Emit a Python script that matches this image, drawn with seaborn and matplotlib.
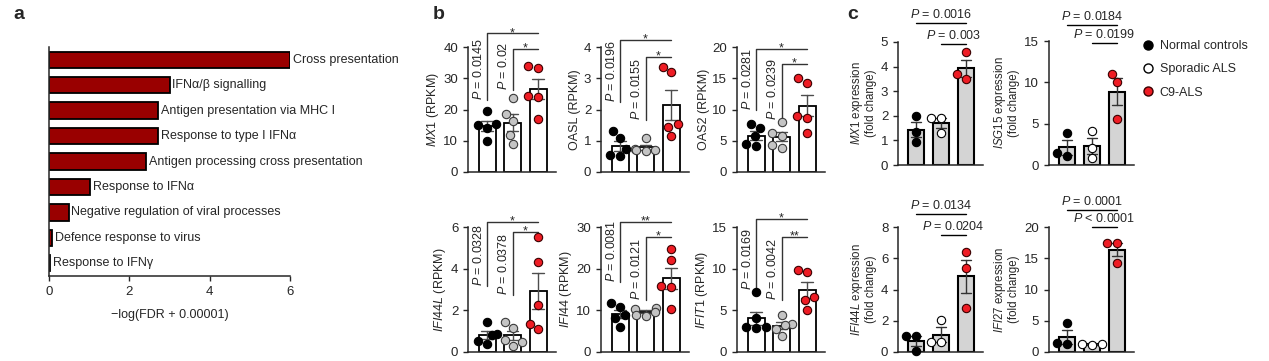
import numpy as np
import pandas as pd
import matplotlib
matplotlib.use('Agg')
import matplotlib.pyplot as plt
import matplotlib.transforms as mtransforms
from matplotlib.lines import Line2D
import seaborn as sns

sns.set_style('ticks')
plt.rcParams['font.family'] = ['Liberation Sans', 'DejaVu Sans']
plt.rcParams['mathtext.fontset'] = 'custom'
plt.rcParams['mathtext.rm'] = 'Liberation Sans'
plt.rcParams['mathtext.it'] = 'Liberation Sans:italic'
plt.rcParams['font.size'] = 9
plt.rcParams['axes.linewidth'] = 1.1
plt.rcParams['xtick.major.size'] = 3.5
plt.rcParams['ytick.major.size'] = 3.5
plt.rcParams['xtick.major.width'] = 1
plt.rcParams['ytick.major.width'] = 1
plt.rcParams['xtick.labelsize'] = 9
plt.rcParams['ytick.labelsize'] = 9.5

# ---- data ----
# a: pathway enrichment
pathways = ['Cross presentation', 'IFNα/β signalling', 'Antigen presentation via MHC I',
            'Response to type I IFNα', 'Antigen processing cross presentation',
            'Response to IFNα', 'Negative regulation of viral processes',
            'Defence response to virus', 'Response to IFNγ']
log_fdr = [6.0, 3.0, 2.71, 2.71, 2.41, 1.02, 0.49, 0.08, 0.03]

groups = ['Normal controls', 'Sporadic ALS', 'C9-ALS']

# b: RPKM, one list per group
mx1_rpkm = [[19.5, 15.5, 15.0, 14.0, 10.0], [23.8, 18.5, 16.2, 11.8, 8.9], [33.8, 33.3, 24.3, 24.1, 17.0]]
oasl_rpkm = [[1.3, 1.1, 0.75, 0.55, 0.5], [1.1, 0.75, 0.72, 0.7, 0.68], [3.36, 3.2, 1.54, 1.45, 1.16]]
oas2_rpkm = [[7.7, 7.0, 5.7, 4.5, 4.2], [8.0, 6.2, 5.8, 4.4, 3.9], [15.0, 14.3, 8.9, 8.7, 6.3]]
ifi44l_rpkm = [[1.45, 0.85, 0.8, 0.55, 0.4], [1.45, 1.15, 0.6, 0.5, 0.3], [5.5, 4.33, 2.26, 1.35, 1.1]]
ifi44_rpkm = [[11.7, 10.9, 8.9, 8.1, 6.1], [10.5, 10.4, 9.7, 8.9, 8.7], [24.8, 22.0, 15.8, 15.5, 10.3]]
ifit1_rpkm = [[7.2, 4.06, 3.06, 2.95, 2.9], [4.4, 3.4, 3.2, 2.8, 1.9], [9.9, 9.6, 6.6, 6.2, 5.1]]

b_ylabels = ['$\\mathit{MX1}$ (RPKM)', 'OASL (RPKM)', 'OAS2 (RPKM)',
             '$\\mathit{IFI44L}$ (RPKM)', '$\\mathit{IFI44}$ (RPKM)', '$\\mathit{IFIT1}$ (RPKM)']
b_yticks = [[0, 10, 20, 30, 40], [0, 1, 2, 3, 4], [0, 5, 10, 15, 20],
            [0, 2, 4, 6], [0, 10, 20, 30], [0, 5, 10, 15]]
b_pvals = [('0.0145', '0.02'), ('0.0196', '0.0155'), ('0.0281', '0.0239'),
           ('0.0328', '0.0378'), ('0.0081', '0.0121'), ('0.0169', '0.0042')]
b_stars = [('*', '*'), ('*', '*'), ('*', '*'), ('*', '*'), ('**', '*'), ('*', '**')]

# c: qPCR fold change
mx1_fc = [[1.98, 1.36, 0.95], [1.9, 1.9, 1.3], [4.6, 3.68, 3.5]]
isg15_fc = [[3.9, 1.4, 1.1], [4.1, 2.1, 0.8], [11.0, 10.0, 5.6]]
ifi44l_fc = [[1.05, 1.0, 0.05], [2.06, 0.64, 0.64], [6.4, 5.35, 2.8]]
ifi27_fc = [[4.7, 1.42, 1.3], [1.3, 1.25, 1.1], [17.5, 17.5, 14.2]]

c_ylabels = ['$\\mathit{MX1}$ expression\n(fold change)', '$\\mathit{ISG15}$ expression\n(fold change)',
             '$\\mathit{IFI44L}$ expression\n(fold change)', '$\\mathit{IFI27}$ expression\n(fold change)']
c_yticks = [[0, 1, 2, 3, 4, 5], [0, 5, 10, 15], [0, 2, 4, 6, 8], [0, 5, 10, 15, 20]]
c_pvals = [('= 0.0016', '= 0.003'), ('= 0.0184', '= 0.0199'),
           ('= 0.0134', '= 0.0204'), ('= 0.0001', '< 0.0001')]

# ---- layout (pixels) ----
W, H = 1269, 361
fig = plt.figure(figsize=(W / 100, H / 100), dpi=100)


def rect(x0, y0, x1, y1):
    return [x0 / W, 1 - y1 / H, (x1 - x0) / W, (y1 - y0) / H]


# panel a
ax = fig.add_axes(rect(49, 47, 290, 276))
sns.barplot(x=log_fdr, y=pathways, orient='h', color='#990000', saturation=1,
            edgecolor='black', linewidth=1.3, width=0.64, ax=ax)
for i, (v, name) in enumerate(zip(log_fdr, pathways)):
    ax.text(v + 0.07, i, name, va='center', ha='left', fontsize=9)
ax.set_xlim(0, 6)
ax.set_xticks([0, 2, 4, 6])
ax.tick_params(axis='x', labelsize=9.5)
ax.tick_params(axis='y', length=0, labelleft=False)
ax.set_ylabel('')
ax.set_xlabel('\u2212log(FDR + 0.00001)', labelpad=8)
sns.despine(ax=ax)

b_face = ['black', '#c4c4c4', '#ee1c24']
b_edge = ['black', '#3a3a3a', '#3a0000']
c_face = ['black', 'white', '#ee1c24']
c_edge = ['black', 'black', '#3a0000']


def make_df(vals):
    return pd.DataFrame({'group': np.repeat(groups, [len(v) for v in vals]),
                         'value': np.concatenate(vals)})


def points(ax, df, face, edge):
    sns.swarmplot(data=df, x='group', y='value', order=groups, color='black',
                  size=6, linewidth=0.8, ax=ax)
    for coll in ax.collections:
        k = int(round(coll.get_offsets()[:, 0].mean()))
        coll.set_facecolor(face[k])
        coll.set_edgecolor(edge[k])
        coll.set_clip_on(False)
        coll.set_zorder(3)


def rpkm_panel(box, vals, ylabel, yticks, pv, st, hts):
    ax = fig.add_axes(rect(*box))
    df = make_df(vals)
    sns.barplot(data=df, x='group', y='value', order=groups, errorbar='se',
                color='white', saturation=1, edgecolor='black', linewidth=1.3,
                width=0.67, capsize=0.45, err_kws={'color': '#4d4d4d', 'linewidth': 1.0}, ax=ax)
    points(ax, df, b_face, b_edge)
    ax.set_xlim(-0.75, 2.7)
    ax.set_ylim(yticks[0], yticks[-1])
    ax.set_yticks(yticks)
    ax.tick_params(axis='x', length=0, labelbottom=False)
    ax.set_xlabel('')
    ax.set_ylabel(ylabel, fontsize=9, labelpad=2)
    sns.despine(ax=ax)
    tr = mtransforms.blended_transform_factory(ax.transData, ax.transAxes)
    top, second, low1, low2 = hts
    ax.plot([0, 0, 2], [low1, top, top], transform=tr, color='#333333', lw=1, clip_on=False)
    ax.plot([1, 1, 2], [low2, second, second], transform=tr, color='#333333', lw=1, clip_on=False)
    ax.text(-0.09, low1, '$P$ = ' + pv[0], rotation=90, ha='right', va='bottom', transform=tr, fontsize=9)
    ax.text(0.91, low2, '$P$ = ' + pv[1], rotation=90, ha='right', va='bottom', transform=tr, fontsize=9)
    ax.annotate(st[0], xy=(1, top), xycoords=tr, xytext=(0, -2), textcoords='offset points',
                ha='center', va='baseline', fontsize=9)
    ax.annotate(st[1], xy=(1.5, second), xycoords=tr, xytext=(0, -2), textcoords='offset points',
                ha='center', va='baseline', fontsize=9)


def fc_panel(box, vals, ylabel, yticks, pv, hts):
    ax = fig.add_axes(rect(*box))
    df = make_df(vals)
    sns.barplot(data=df, x='group', y='value', order=groups, errorbar='se',
                color='#d4d4d4', saturation=1, edgecolor='black', linewidth=1.5,
                width=0.64, capsize=0.4, err_kws={'color': '#333333', 'linewidth': 1.0}, ax=ax)
    points(ax, df, c_face, c_edge)
    ax.set_xlim(-0.72, 2.68)
    ax.set_ylim(yticks[0], yticks[-1])
    ax.set_yticks(yticks)
    ax.tick_params(axis='x', length=0, labelbottom=False)
    ax.set_xlabel('')
    ax.set_ylabel(ylabel, fontsize=8.3, linespacing=1.0, labelpad=3)
    sns.despine(ax=ax)
    tr = mtransforms.blended_transform_factory(ax.transData, ax.transAxes)
    top, second = hts
    ax.plot([0, 2], [top, top], transform=tr, color='black', lw=1, clip_on=False)
    ax.plot([1, 2], [second, second], transform=tr, color='black', lw=1, clip_on=False)
    ax.annotate('$P$ ' + pv[0], xy=(1, top), xycoords=tr, xytext=(0, 1.5), textcoords='offset points',
                ha='center', va='bottom', fontsize=9)
    ax.annotate('$P$ ' + pv[1], xy=(1.5, second), xycoords=tr, xytext=(0, 1.5), textcoords='offset points',
                ha='center', va='bottom', fontsize=9)


b_boxes = [(468, 47, 556, 172), (601, 47, 689, 172), (737, 47, 825, 172),
           (468, 227, 556, 352), (601, 227, 689, 352), (737, 227, 825, 352)]
b_heights = [(1.11, 0.985, 0.576, 0.66), (1.056, 0.92, 0.56, 0.416), (0.984, 0.864, 0.496, 0.416),
             (1.04, 0.96, 0.528, 0.456), (1.04, 0.92, 0.56, 0.42), (1.064, 0.92, 0.496, 0.42)]
b_data = [mx1_rpkm, oasl_rpkm, oas2_rpkm, ifi44l_rpkm, ifi44_rpkm, ifit1_rpkm]
for i in range(6):
    rpkm_panel(b_boxes[i], b_data[i], b_ylabels[i], b_yticks[i], b_pvals[i], b_stars[i], b_heights[i])

c_boxes = [(898, 42, 983, 165), (1049, 41, 1134, 165), (898, 227, 983, 352), (1049, 227, 1134, 352)]
c_heights = [(1.155, 0.984), (1.13, 0.98), (1.104, 0.936), (1.136, 1.0)]
c_data = [mx1_fc, isg15_fc, ifi44l_fc, ifi27_fc]
for i in range(4):
    fc_panel(c_boxes[i], c_data[i], c_ylabels[i], c_yticks[i], c_pvals[i], c_heights[i])

# legend
handles = [Line2D([], [], marker='o', ls='', ms=6.5, mfc=f, mec=e, mew=1)
           for f, e in zip(c_face, c_edge)]
fig.legend(handles, groups, loc='upper left', bbox_to_anchor=(1142 / W, 1 - 40 / H),
           frameon=False, handlelength=1, handletextpad=0.4, labelspacing=0.9,
           borderpad=0, borderaxespad=0, fontsize=9)

# panel letters
for x, letter in [(13, 'a'), (433, 'b'), (847, 'c')]:
    fig.text(x / W, 1 - 19 / H, letter, fontsize=14, fontweight='bold', ha='left', va='baseline')

fig.savefig('out.png', dpi=100)
